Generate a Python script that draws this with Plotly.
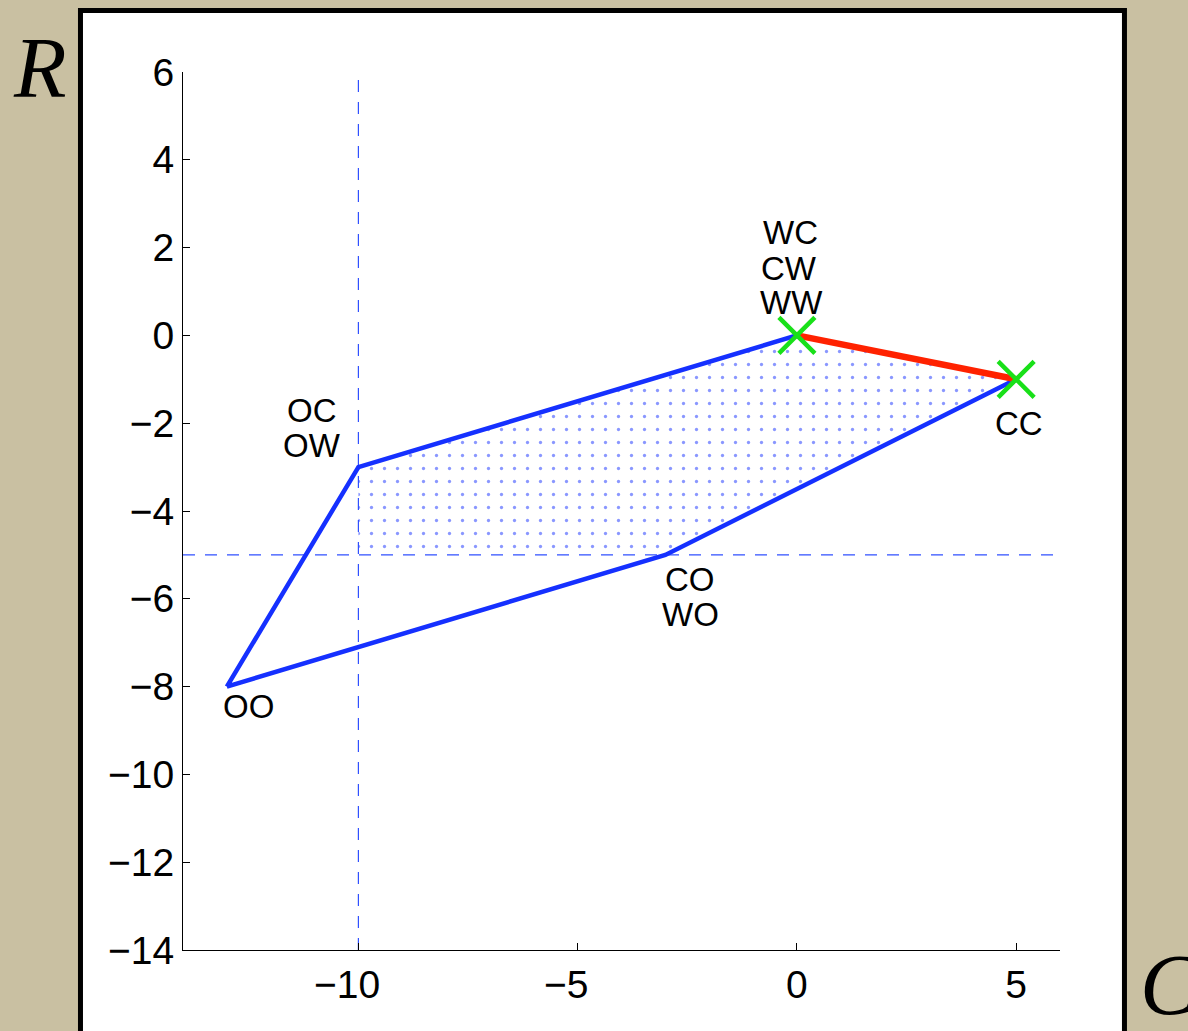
import plotly.graph_objects as go

# ---- data ----
outer_C = [-13, -10, 0, 5, -3, -13]
outer_R = [-8, -3, 0, -1, -5, -8]
red_C = [0, 5]
red_R = [0, -1]
region_C = [-10, 0, 5, -3, -10, -10]
region_R = [-3, 0, -1, -5, -5, -3]
eq_C = [0, 5]
eq_R = [0, -1]
thr_C = -10
thr_R = -5
x_range = [-14, 6]
y_range = [-14, 6]
x_ticks = [-10, -5, 0, 5]
y_ticks = [-14, -12, -10, -8, -6, -4, -2, 0, 2, 4, 6]
# profile labels, one entry per text line, attached to a vertex
label_text = ["WC", "CW", "WW", "CC", "OC", "OW", "CO", "WO", "OO"]
label_C = [0, 0, 0, 5, -10, -10, -3, -3, -13]
label_R = [0, 0, 0, -1, -3, -3, -5, -5, -8]
# pixel offsets of the label centre from its vertex
label_dx = [-6, -8, -5, 3, -46, -46, 25, 25, 22]
label_dy = [103, 67, 33, -44, 57, 22, -25, -60, -20]

BLUE = "#1530ff"
DASH_BLUE = "#3050ff"
RED = "#ff2200"
GREEN = "#19e019"
BG = "#c9c0a2"

fig = go.Figure()

# dotted region
fig.add_trace(go.Scatter(
    x=region_C, y=region_R, mode="lines", fill="toself",
    line=dict(width=0, color="rgba(0,0,0,0)"),
    fillcolor="rgba(0,0,0,0)",
    fillpattern=dict(shape=".", size=13, solidity=0.05, fgcolor=BLUE, bgcolor="white"),
    hoverinfo="skip", showlegend=False))

# dashed threshold lines
fig.add_trace(go.Scatter(x=[thr_C, thr_C], y=y_range, mode="lines",
                         line=dict(color=DASH_BLUE, width=1.2, dash="12px,10px"), showlegend=False))
fig.add_trace(go.Scatter(x=x_range, y=[thr_R, thr_R], mode="lines",
                         line=dict(color=DASH_BLUE, width=1.2, dash="12px,10px"), showlegend=False))

# blue polygon
fig.add_trace(go.Scatter(x=outer_C, y=outer_R, mode="lines",
                         line=dict(color=BLUE, width=4.5), showlegend=False))
# red segment
fig.add_trace(go.Scatter(x=red_C, y=red_R, mode="lines",
                         line=dict(color=RED, width=6.5), showlegend=False))
# green X markers
fig.add_trace(go.Scatter(x=eq_C, y=eq_R, mode="markers",
                         marker=dict(symbol="x-thin", size=36, line=dict(color=GREEN, width=4.5)),
                         showlegend=False))

lab_font = dict(family="Liberation Sans, Arial, sans-serif", size=33, color="black")
tick_font = dict(family="Liberation Sans, Arial, sans-serif", size=39, color="black")
for t, cx, cy, dx, dy in zip(label_text, label_C, label_R, label_dx, label_dy):
    fig.add_annotation(x=cx, y=cy, xref="x", yref="y", text=t, showarrow=False,
                       font=lab_font, xanchor="center", yanchor="middle",
                       xshift=dx, yshift=dy)

# big italic axis letters
serif = dict(family="Liberation Serif, Times New Roman, serif", size=86, color="black")
fig.add_annotation(x=-0.163, y=1.005, xref="paper", yref="paper", text="<i>R</i>",
                   showarrow=False, font=serif, xanchor="center", yanchor="middle")
fig.add_annotation(x=1.125, y=-0.04, xref="paper", yref="paper", text="<i>C</i>",
                   showarrow=False, font=serif, xanchor="center", yanchor="middle")

# white panel with black border
fig.add_shape(type="rect", xref="paper", yref="paper",
              x0=-0.1169, x1=1.0735, y0=-0.15, y1=1.0700,
              fillcolor="white", line=dict(color="black", width=5), layer="below")


def fmt(v):
    # digits centred on the tick, minus sign hanging to the left
    if v < 0:
        return "\u2212" + str(abs(v)) + "<span style='color:rgba(0,0,0,0)'>\u2212</span>"
    return str(v)


x_ticktext = [fmt(v) for v in x_ticks]
y_ticktext = [("\u2212" + str(abs(v))) if v < 0 else str(v) for v in y_ticks]

fig.update_layout(
    width=1188, height=1031,
    margin=dict(l=183, r=128, t=72, b=81),
    paper_bgcolor=BG, plot_bgcolor="white",
    showlegend=False,
    font=tick_font,
)
fig.update_xaxes(range=x_range, tickvals=x_ticks, ticktext=x_ticktext, ticks="inside", ticklen=7,
                 tickcolor="black", showline=True, linecolor="black", linewidth=1,
                 showgrid=False, zeroline=False, tickfont=tick_font)
fig.update_yaxes(range=y_range, tickvals=y_ticks, ticktext=y_ticktext, ticks="inside", ticklen=7,
                 tickcolor="black", showline=True, linecolor="black", linewidth=1,
                 showgrid=False, zeroline=False, tickfont=tick_font)

fig.write_html("out.html", config={"displayModeBar": False},
               post_script="document.body.style.margin='0';"
                           "document.body.style.background='" + BG + "';")
